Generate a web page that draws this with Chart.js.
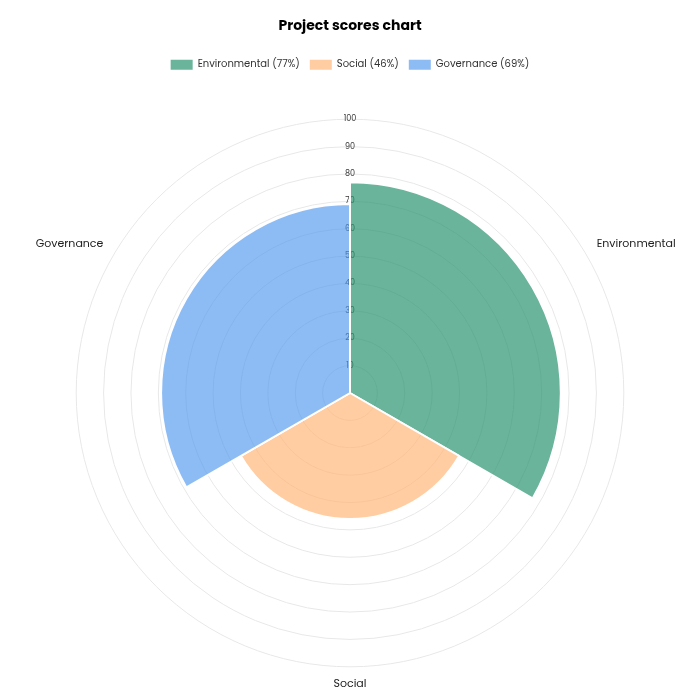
<!DOCTYPE html>
<html>
<head>
<meta charset="utf-8">
<script src="https://cdn.jsdelivr.net/npm/chart.js@4"></script>
<style>
  html, body { margin: 0; padding: 0; background: #fff; }
  #wrap { width: 700px; height: 700px; }
</style>
</head>
<body>
<div id="wrap"><canvas id="chart"></canvas></div>
<script>
const categories = ['Environmental', 'Social', 'Governance'];
const scores = [77, 46, 69];
const colors = ['rgba(42, 148, 111, 0.7)', 'rgba(255, 178, 110, 0.65)', 'rgba(80, 150, 236, 0.65)'];
const FONT = 'Poppins, Lato, "Noto Sans", sans-serif';

// extra room between the legend and the polar area
const legendMargin = {
  id: 'legendMargin',
  beforeInit(chart) {
    const fit = chart.legend.fit;
    chart.legend.fit = function () {
      fit.bind(chart.legend)();
      this.height += 25;
    };
  }
};

const ctx = document.getElementById('chart').getContext('2d');
new Chart(ctx, {
  type: 'polarArea',
  data: {
    labels: categories,
    datasets: [{
      data: scores,
      backgroundColor: colors,
      borderColor: '#fff',
      borderWidth: 2
    }]
  },
  options: {
    responsive: true,
    maintainAspectRatio: false,
    animation: false,
    plugins: {
      title: {
        display: true,
        text: 'Project scores chart',
        color: '#000',
        font: { family: FONT, size: 14, weight: 'bold' },
        padding: { top: 18, bottom: 15 }
      },
      legend: {
        position: 'top',
        labels: {
          color: '#333',
          boxWidth: 22,
          boxHeight: 10,
          font: { family: FONT, size: 10 },
          generateLabels(chart) {
            const items = Chart.PolarAreaController.overrides.plugins.legend.labels.generateLabels(chart);
            items.forEach((it, i) => {
              it.text = categories[i] + ' (' + scores[i] + '%)';
              it.lineWidth = 0;
            });
            return items;
          }
        }
      }
    },
    scales: {
      r: {
        min: 0,
        max: 100,
        ticks: {
          stepSize: 10,
          color: '#333',
          font: { family: FONT, size: 8 },
          showLabelBackdrop: false
        },
        grid: { color: '#e8e8e8' },
        pointLabels: {
          display: true,
          centerPointLabels: true,
          color: '#222',
          font: { family: FONT, size: 11 }
        }
      }
    }
  },
  plugins: [legendMargin]
});
</script>
</body>
</html>
